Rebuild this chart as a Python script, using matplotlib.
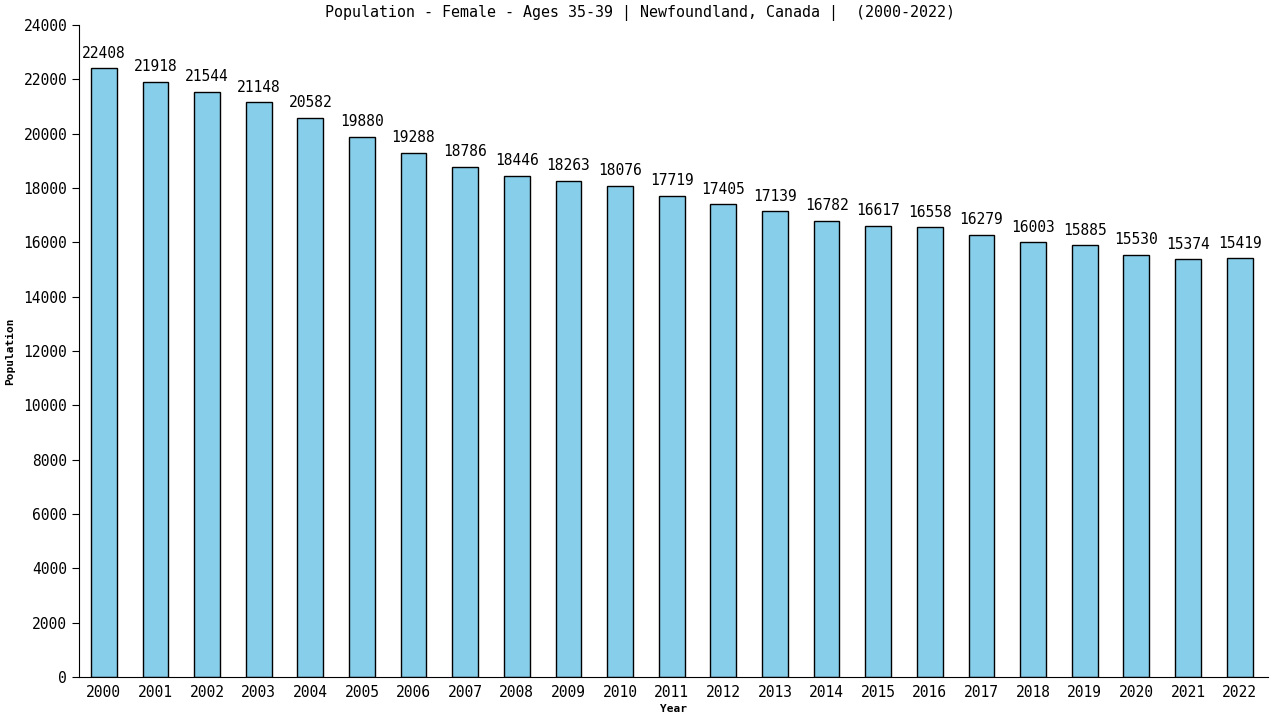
import matplotlib.pyplot as plt

years = [str(y) for y in range(2000, 2023)]
population = [22408, 21918, 21544, 21148, 20582, 19880, 19288, 18786, 18446, 18263,
              18076, 17719, 17405, 17139, 16782, 16617, 16558, 16279, 16003, 15885,
              15530, 15374, 15419]

plt.rcParams['font.family'] = ['DejaVu Sans Mono']

fig = plt.figure(figsize=(12.8, 7.2), dpi=100)
ax = fig.add_axes([79 / 1280, 1 - 677 / 720, (1268 - 79) / 1280, (677 - 25) / 720])

x = list(range(len(years)))
ax.bar(x, population, width=0.5, color='#87ceeb', edgecolor='black', linewidth=1)

for xi, v in zip(x, population):
    ax.text(xi, v + 280, str(v), ha='center', va='bottom', fontsize=10.5)

ax.set_xlim(-0.48, 22.55)
ax.set_ylim(0, 24000)
ax.set_yticks(range(0, 24001, 2000))
ax.set_xticks(x)
ax.set_xticklabels(years)
ax.tick_params(axis='y', labelsize=10.5, length=5, direction='out')
ax.tick_params(axis='x', labelsize=10.5, length=0, pad=6)
ax.spines['top'].set_visible(False)
ax.spines['right'].set_visible(False)

ax.set_xlabel('Year', fontsize=8, fontweight='bold', labelpad=3)
ax.set_ylabel('Population', fontsize=8, fontweight='bold', labelpad=6)
fig.text(0.5, 1 - 13 / 720, 'Population - Female - Ages 35-39 | Newfoundland, Canada |  (2000-2022)',
         ha='center', va='center', fontsize=10.8)

plt.savefig('out.png', dpi=100)
